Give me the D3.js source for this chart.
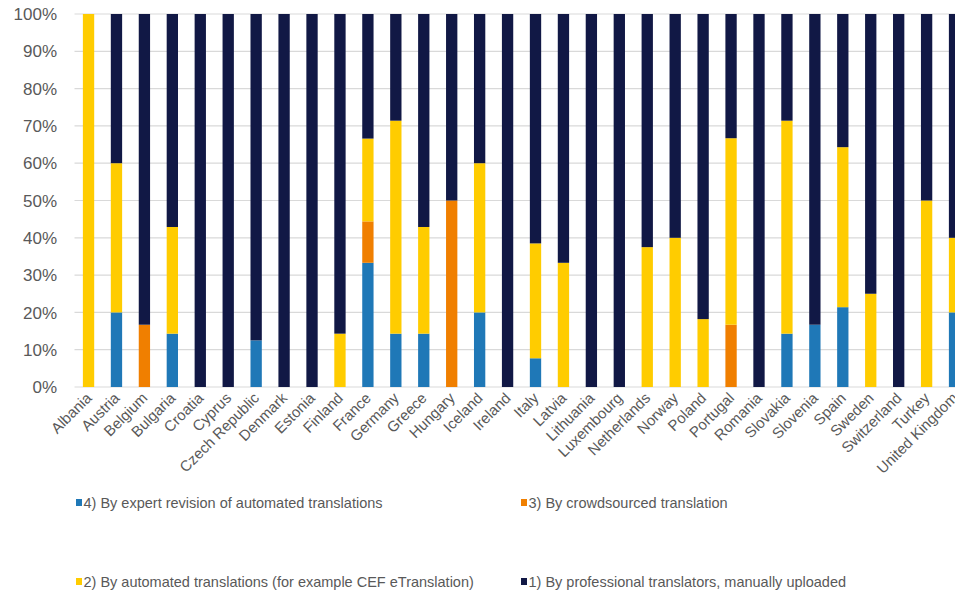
<!DOCTYPE html>
<html>

<head>
<script src="https://d3js.org/d3.v7.min.js"></script>
<style>
  body { margin: 0; background: #fff; }
  text { font-family: "Liberation Sans", Arial, sans-serif; }
</style>
</head>

<body>
  <script>
    var countries = ["Albania", "Austria", "Belgium", "Bulgaria", "Croatia", "Cyprus", "Czech Republic",
      "Denmark", "Estonia", "Finland", "France", "Germany", "Greece", "Hungary", "Iceland", "Ireland",
      "Italy", "Latvia", "Lithuania", "Luxembourg", "Netherlands", "Norway", "Poland", "Portugal",
      "Romania", "Slovakia", "Slovenia", "Spain", "Sweden", "Switzerland", "Turkey", "United Kingdom"];

    // shares in percent, one value per country
    var expertRevision = [0, 20, 0, 14.3, 0, 0, 12.5, 0, 0, 0, 33.3, 14.3, 14.3, 0, 20, 0,
      7.7, 0, 0, 0, 0, 0, 0, 0, 0, 14.3, 16.7, 21.4, 0, 0, 0, 20];
    var crowdsourced = [0, 0, 16.7, 0, 0, 0, 0, 0, 0, 0, 11.1, 0, 0, 50, 0, 0,
      0, 0, 0, 0, 0, 0, 0, 16.7, 0, 0, 0, 0, 0, 0, 0, 0];
    var automated = [100, 40, 0, 28.6, 0, 0, 0, 0, 0, 14.3, 22.2, 57.1, 28.6, 0, 40, 0,
      30.8, 33.3, 0, 0, 37.5, 40, 18.2, 50, 0, 57.1, 0, 42.9, 25, 0, 50, 20];
    var professional = [0, 40, 83.3, 57.1, 100, 100, 87.5, 100, 100, 85.7, 33.4, 28.6, 57.1, 50, 40, 100,
      61.5, 66.7, 100, 100, 62.5, 60, 81.8, 33.3, 100, 28.6, 83.3, 35.7, 75, 100, 50, 60];

    var seriesNames = ["4) By expert revision of automated translations", "3) By crowdsourced translation",
      "2) By automated translations (for example CEF eTranslation)", "1) By professional translators, manually uploaded"];
    var yTicks = [0, 10, 20, 30, 40, 50, 60, 70, 80, 90, 100];

    var colors = ["#1F78B7", "#F07F00", "#FFCC00", "#111845"];
    var keys = ["s4", "s3", "s2", "s1"];

    var width = 955,
      height = 596;

    var margin = {
      top: 14,
      left: 74.5,
      bottom: 387
    };

    var rows = countries.map(function(c, i) {
      return {
        country: c,
        s4: expertRevision[i],
        s3: crowdsourced[i],
        s2: automated[i],
        s1: professional[i]
      };
    });

    var stack = d3.stack().keys(keys);
    var layers = stack(rows);

    var x = d3.scaleBand()
      .domain(countries)
      .range([margin.left, margin.left + 27.94 * countries.length])
      .paddingInner(0.595)
      .paddingOuter(0.3);

    var y = d3.scaleLinear()
      .domain([0, 100])
      .range([margin.bottom, margin.top]);

    var svg = d3.select("body").append("svg")
      .attr("width", width)
      .attr("height", height);

    // gridlines
    svg.append("g")
      .selectAll("line")
      .data(yTicks)
      .enter().append("line")
      .attr("x1", margin.left)
      .attr("x2", width)
      .attr("y1", function(d) { return y(d); })
      .attr("y2", function(d) { return y(d); })
      .attr("stroke", "#D9D9D9")
      .attr("stroke-width", 1.2);

    // y labels
    svg.append("g")
      .selectAll("text")
      .data(yTicks)
      .enter().append("text")
      .attr("x", 57)
      .attr("y", function(d) { return y(d); })
      .attr("dy", "0.36em")
      .attr("text-anchor", "end")
      .attr("fill", "#595959")
      .style("font-size", "17px")
      .text(function(d) { return d + "%"; });

    // bars
    svg.append("g")
      .selectAll("g")
      .data(layers)
      .enter().append("g")
      .attr("fill", function(d, i) { return colors[i]; })
      .selectAll("rect")
      .data(function(d) { return d; })
      .enter().append("rect")
      .attr("x", function(d) { return x(d.data.country); })
      .attr("width", x.bandwidth())
      .attr("y", function(d) { return y(d[1]); })
      .attr("height", function(d) { return y(d[0]) - y(d[1]); });

    // x labels
    svg.append("g")
      .selectAll("text")
      .data(countries)
      .enter().append("text")
      .attr("text-anchor", "end")
      .attr("fill", "#595959")
      .style("font-size", "15px")
      .attr("transform", function(d) {
        return "translate(" + (x(d) + x.bandwidth() / 2 + 4) + ",399) rotate(-45)";
      })
      .text(function(d) { return d; });

    // legend
    var legendPos = [[76, 503], [521, 503], [76, 582], [521, 582]];
    var legend = svg.append("g")
      .selectAll("g")
      .data(seriesNames)
      .enter().append("g")
      .attr("transform", function(d, i) { return "translate(" + legendPos[i][0] + "," + legendPos[i][1] + ")"; });

    legend.append("rect")
      .attr("x", 0)
      .attr("y", -4)
      .attr("width", 6)
      .attr("height", 7)
      .attr("fill", function(d, i) { return colors[i]; });

    legend.append("text")
      .attr("x", 7.5)
      .attr("dy", "0.35em")
      .attr("fill", "#595959")
      .style("font-size", "14.5px")
      .text(function(d) { return d; });
  </script>
</body>

</html>
